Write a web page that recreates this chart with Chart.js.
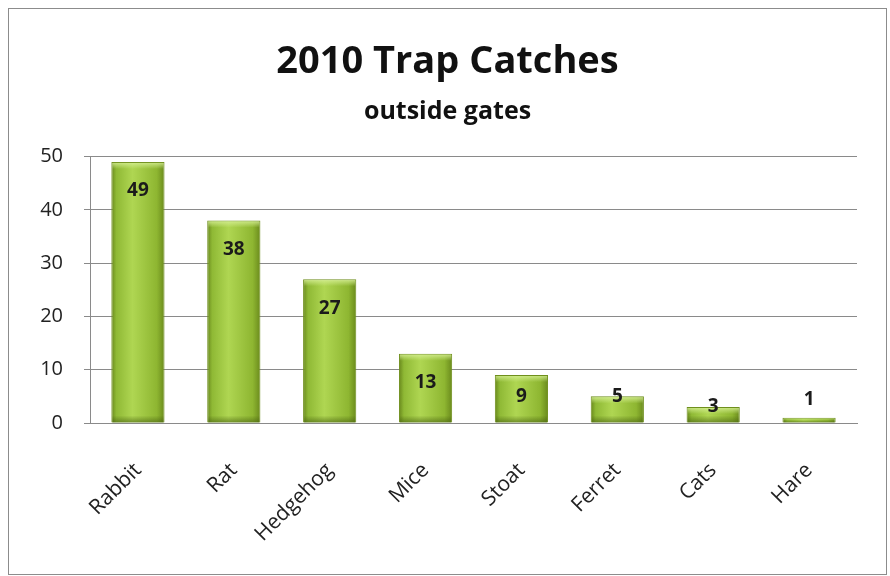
<!DOCTYPE html>
<html>
<head>
<meta charset="utf-8">
<script src="https://cdn.jsdelivr.net/npm/chart.js@4"></script>
<style>
  body { margin: 0; background: #fff; }
  #wrap { position: absolute; left: 8px; top: 8px; width: 877px; height: 565px; border: 1px solid #8c8c8c; }
</style>
</head>
<body>
<div id="wrap"><canvas id="trapChart" width="877" height="565"></canvas></div>
<script>
// values
const animals = ['Rabbit', 'Rat', 'Hedgehog', 'Mice', 'Stoat', 'Ferret', 'Cats', 'Hare'];
const catches = [49, 38, 27, 13, 9, 5, 3, 1];
const yTicks = [0, 10, 20, 30, 40, 50];

const FONT = '"Open Sans", "Noto Sans", sans-serif';

function barFill(context) {
    const chart = context.chart;
    if (!chart.chartArea) return '#9bc33b';
    const x = chart.scales.x.getPixelForValue(context.dataIndex);
    const half = 27;
    const g = chart.ctx.createLinearGradient(x - half, 0, x + half, 0);
    g.addColorStop(0, '#65841a');
    g.addColorStop(0.1, '#8fb935');
    g.addColorStop(0.4, '#afd652');
    g.addColorStop(0.85, '#8eb631');
    g.addColorStop(1, '#68881b');
    return g;
}

// bevel on top of each bar, then the numbers near the top
const valueLabels = {
    id: 'valueLabels',
    afterDatasetsDraw(chart) {
        const ctx = chart.ctx;
        const meta = chart.getDatasetMeta(0);
        ctx.save();
        meta.data.forEach(bar => {
            const h = Math.min(7, (bar.base - bar.y) / 2);
            const left = bar.x - bar.width / 2;
            const g = ctx.createLinearGradient(0, bar.y, 0, bar.y + h);
            g.addColorStop(0, 'rgba(215,240,150,0.9)');
            g.addColorStop(1, 'rgba(215,240,150,0)');
            ctx.fillStyle = g;
            ctx.fillRect(left + 1, bar.y + 1, bar.width - 2, h);
            const g2 = ctx.createLinearGradient(0, bar.base - h, 0, bar.base);
            g2.addColorStop(0, 'rgba(70,95,15,0)');
            g2.addColorStop(1, 'rgba(70,95,15,0.6)');
            ctx.fillStyle = g2;
            ctx.fillRect(left + 1, bar.base - h, bar.width - 2, h);
        });
        ctx.font = 'bold 19px ' + FONT;
        ctx.fillStyle = '#1b1b1b';
        ctx.textAlign = 'center';
        ctx.textBaseline = 'middle';
        meta.data.forEach((bar, i) => {
            const top = bar.y, base = bar.base;
            let y;
            if (base - top < 10) {
                y = top - 18;
            } else {
                y = Math.min(top + 29, Math.max(top, base - 26));
            }
            ctx.fillText(String(catches[i]), bar.x, y);
        });
        ctx.restore();
    }
};

new Chart(document.getElementById('trapChart'), {
    type: 'bar',
    data: {
        labels: animals,
        datasets: [{
            data: catches,
            backgroundColor: barFill,
            borderColor: '#6f8f1d',
            borderWidth: 1,
            categoryPercentage: 1,
            barPercentage: 0.555
        }]
    },
    options: {
        responsive: false,
        animation: false,
        layout: { padding: 0 },
        plugins: {
            legend: { display: false },
            tooltip: { enabled: false },
            title: {
                display: true,
                text: '2010 Trap Catches',
                color: '#111',
                font: { family: FONT, size: 38, weight: 'bold' },
                padding: { top: 30, bottom: 0 }
            },
            subtitle: {
                display: true,
                text: 'outside gates',
                color: '#111',
                font: { family: FONT, size: 25, weight: 'bold' },
                padding: { top: 12, bottom: 30 }
            }
        },
        scales: {
            x: {
                afterFit(scale) { scale.height = 151; },
                grid: { display: false },
                border: { color: '#8a8a8a' },
                ticks: {
                    color: '#222',
                    font: { family: FONT, size: 21 },
                    maxRotation: 45,
                    minRotation: 45,
                    padding: 27
                }
            },
            y: {
                min: 0,
                max: 50,
                afterFit(scale) { scale.width = 81; },
                afterBuildTicks(scale) { scale.ticks = yTicks.map(v => ({ value: v })); },
                grid: { color: '#8a8a8a', tickLength: 6 },
                border: { color: '#8a8a8a' },
                ticks: {
                    color: '#222',
                    font: { family: FONT, size: 20 },
                    padding: 21
                }
            },
            // empty strip on the right so the title stays centred on the frame
            yRight: {
                position: 'right',
                min: 0,
                max: 50,
                afterFit(scale) { scale.width = 29; },
                grid: { display: false },
                border: { display: false },
                ticks: { display: false }
            }
        }
    },
    plugins: [valueLabels]
});
</script>
</body>
</html>
